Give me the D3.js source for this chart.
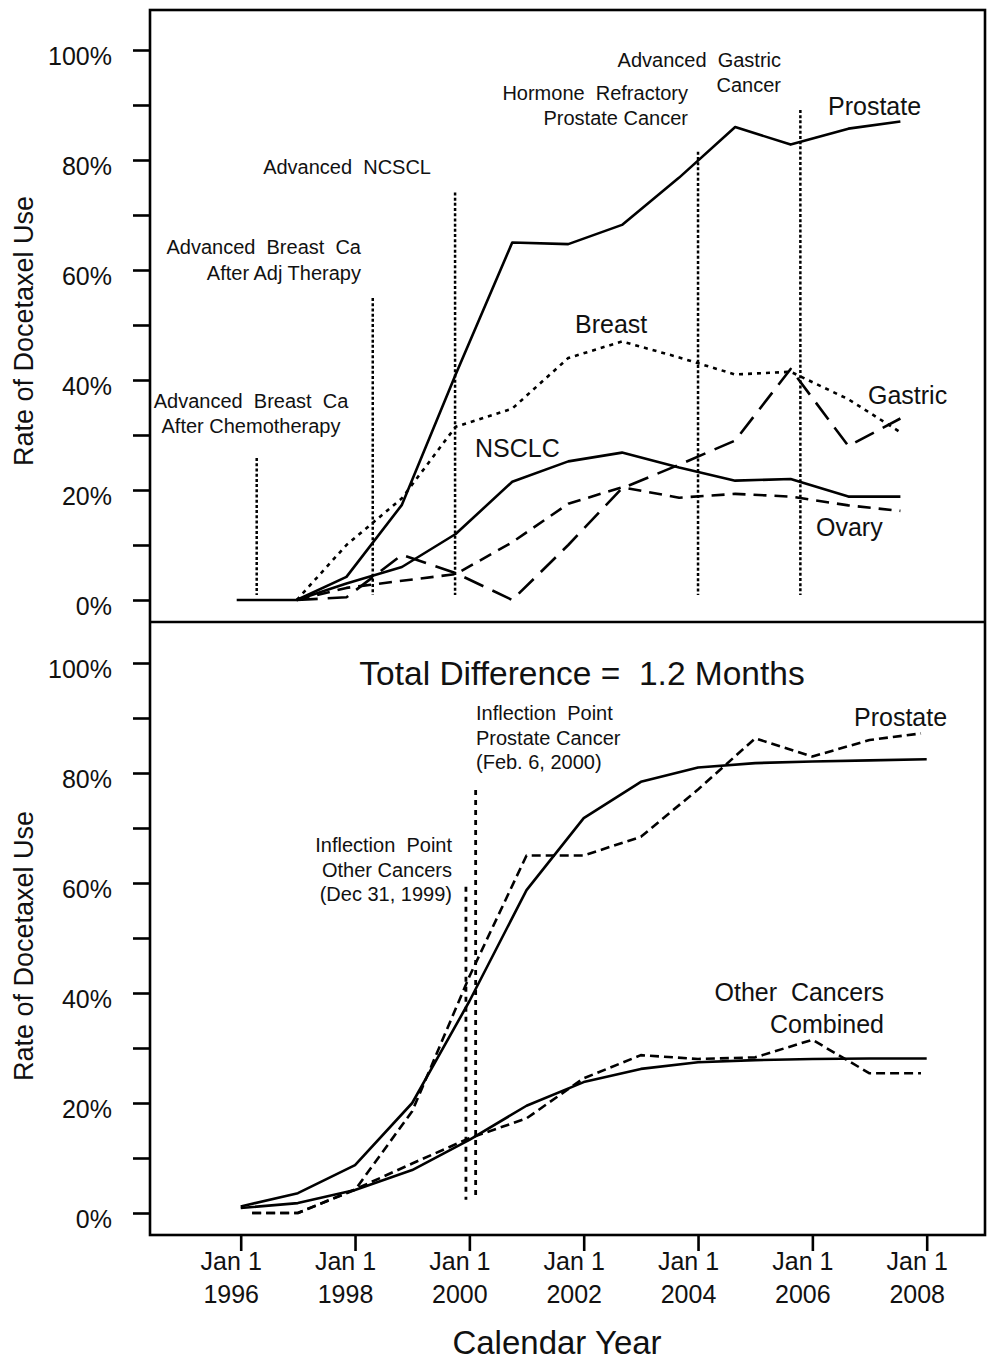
<!DOCTYPE html>
<html>
<head>
<meta charset="utf-8">
<script src="https://cdn.jsdelivr.net/npm/d3@7"></script>
<style>
  html, body { margin: 0; padding: 0; background: #fff; }
  svg { display: block; }
  text { font-family: "Liberation Sans", Arial, Helvetica, sans-serif; fill: #111; white-space: pre; }
</style>
</head>
<body>
<svg id="chart" width="992" height="1362"></svg>
<script>
// ---------------- DATA ----------------
// Top panel (observed annual rates by cancer type)
const topYears   = [1995.93, 1996.98, 1997.85, 1998.82, 1999.76, 2000.75, 2001.73, 2002.67, 2003.67, 2004.65, 2005.62, 2006.63, 2007.54];
const prostateTop = [0, 0, 4.2, 17.3, 41, 65, 64.7, 68.2, 76.8, 86, 82.8, 85.7, 87];
const breastTop   = [null, 0, 10, 18.5, 31.5, 34.8, 44, 47, 44.1, 41, 41.5, 36.5, 30.5];
const nsclcTop    = [null, 0, 3, 6, 12, 21.5, 25.2, 26.8, 24.1, 21.7, 22, 18.8, 18.8];
const ovaryTop    = [null, 0, 2.2, 3.5, 4.7, 10.5, 17.5, 20.5, 18.6, 19.3, 18.8, 17.2, 16.2];
const gastricTop  = [null, 0, 0.5, 8.2, 4.9, 0, 10, 20.3, 24.6, 29, 42, 28, 33];

// Approval markers (top panel)
const approvalYears = [1996.28, 1998.31, 1999.75, 2004.0, 2005.79];
const approvalTops  = [25.8, 54.9, 74.1, 81.5, 89.1];

// Bottom panel (fitted vs observed)
const fitYears    = [1996, 1997, 1998, 1999, 2000, 2001, 2002, 2003, 2004, 2005, 2006, 2007, 2008];
const prostateFit = [1.2, 3.6, 8.7, 20, 38.5, 58.7, 71.8, 78.4, 81, 81.8, 82.1, 82.3, 82.5];
const otherFit    = [0.9, 1.8, 4.2, 7.8, 13.3, 19.5, 23.8, 26.2, 27.4, 27.8, 28, 28.1, 28.1];
const obsYears    = [1996.2, 1997, 1998, 1999, 2000, 2001, 2002, 2003, 2004, 2005, 2006, 2007, 2007.9];
const prostateObs = [0, 0, 4.2, 18.5, 43, 65, 65, 68.4, 77, 86.3, 83, 86, 87.2];
const otherObs    = [0, 0, 4.3, 9, 13.6, 17.2, 24.5, 28.7, 28, 28.3, 31.5, 25.4, 25.4];

// Inflection points (bottom panel)
const inflectionYears = [1999.94, 2000.11];
const inflectionTops  = [59.3, 76.9];
const inflectionBottom = 2.4;

// Axis ticks
const yTicks = [0, 10, 20, 30, 40, 50, 60, 70, 80, 90, 100];
const xTicks = [1996, 1998, 2000, 2002, 2004, 2006, 2008];
const xTickLine1 = "Jan 1";

// ---------------- LAYOUT ----------------
const svg = d3.select("#chart");
const L = 150, R = 985, T = 10, MID = 622, B = 1235;
const x = d3.scaleLinear().domain([1996, 2008]).range([240.7, 926.7]);
const yTop = d3.scaleLinear().domain([0, 100]).range([600, 50]);
const yBot = d3.scaleLinear().domain([0, 100]).range([1213, 663]);
const SW = 2.6;

// ---------------- AXES ----------------
function yAxis(scale) {
  const g = svg.append("g").attr("transform", `translate(${L},0)`)
    .call(d3.axisLeft(scale).tickValues(yTicks).tickSize(17).tickPadding(21)
      .tickFormat(d => d % 20 === 0 ? d + "%" : ""));
  g.select(".domain").remove();
  g.selectAll(".tick line").attr("stroke", "#000").attr("stroke-width", SW);
  g.selectAll(".tick text").attr("font-size", 25).attr("dy", "0.56em")
    .attr("font-family", "'Liberation Sans', Arial, sans-serif").attr("fill", "#111");
}
yAxis(yTop);
yAxis(yBot);

const xg = svg.append("g").attr("transform", `translate(0,${B})`)
  .call(d3.axisBottom(x).tickValues(xTicks).tickSize(16).tickFormat(""));
xg.select(".domain").remove();
xg.selectAll(".tick line").attr("stroke", "#000").attr("stroke-width", SW);
xg.selectAll(".tick").each(function(d) {
  const t = d3.select(this).append("text").attr("text-anchor", "middle")
    .attr("font-size", 25).attr("fill", "#111")
    .attr("font-family", "'Liberation Sans', Arial, sans-serif");
  t.append("tspan").attr("x", -10).attr("y", 35).text(xTickLine1);
  t.append("tspan").attr("x", -10).attr("y", 68).text(d);
});

// ---------------- LINES ----------------
function drawLine(years, vals, yScale, dash, width) {
  const data = years.map((yr, i) => [yr, vals[i]]);
  const line = d3.line().defined(d => d[1] !== null)
    .x(d => x(d[0])).y(d => yScale(d[1]));
  svg.append("path").datum(data).attr("d", line)
    .attr("fill", "none").attr("stroke", "#000")
    .attr("stroke-width", width || SW)
    .attr("stroke-dasharray", dash || null)
    .attr("stroke-linejoin", "round");
}

// approval markers
approvalYears.forEach((yr, i) => {
  svg.append("line").attr("x1", x(yr)).attr("x2", x(yr))
    .attr("y1", yTop(approvalTops[i])).attr("y2", yTop(0.9))
    .attr("stroke", "#000").attr("stroke-width", 2.5).attr("stroke-dasharray", "3,2.2");
});

drawLine(topYears, prostateTop, yTop);
drawLine(topYears, nsclcTop, yTop);
drawLine(topYears, breastTop, yTop, "4,5");
drawLine(topYears, ovaryTop, yTop, "13,8");
drawLine(topYears, gastricTop, yTop, "21,10");

// inflection markers
inflectionYears.forEach((yr, i) => {
  svg.append("line").attr("x1", x(yr)).attr("x2", x(yr))
    .attr("y1", yBot(inflectionTops[i])).attr("y2", yBot(inflectionBottom))
    .attr("stroke", "#000").attr("stroke-width", 2.8).attr("stroke-dasharray", "5,5");
});

drawLine(fitYears, prostateFit, yBot);
drawLine(fitYears, otherFit, yBot);
drawLine(obsYears, prostateObs, yBot, "9,5");
drawLine(obsYears, otherObs, yBot, "9,5");

// ---------------- FRAME ----------------
svg.append("rect").attr("x", L).attr("y", T).attr("width", R - L).attr("height", B - T)
  .attr("fill", "none").attr("stroke", "#000").attr("stroke-width", SW);
svg.append("line").attr("x1", L).attr("x2", R).attr("y1", MID).attr("y2", MID)
  .attr("stroke", "#000").attr("stroke-width", SW);

// ---------------- TEXT ----------------
function label(lines, xPos, y0, lh, size, anchor) {
  const t = svg.append("text").attr("font-size", size).attr("text-anchor", anchor || "start");
  lines.forEach((s, i) => t.append("tspan").attr("x", xPos).attr("y", y0 + i * lh).text(s));
}
const A = 20;
label(["Advanced  Breast  Ca", "After Chemotherapy"], 251, 408, 25, A, "middle");
label(["Advanced  Breast  Ca", "After Adj Therapy"], 361, 254, 26, A, "end");
label(["Advanced  NCSCL"], 431, 174, 25, A, "end");
label(["Hormone  Refractory", "Prostate Cancer"], 688, 100, 25, A, "end");
label(["Advanced  Gastric", "Cancer"], 781, 67, 25, A, "end");

label(["Prostate"], 828, 115, 0, 25);
label(["Breast"], 575, 333, 0, 25);
label(["NSCLC"], 475, 457, 0, 25);
label(["Gastric"], 868, 404, 0, 25);
label(["Ovary"], 816, 536, 0, 25);

label(["Total Difference =  1.2 Months"], 582, 685, 0, 33.5, "middle");
label(["Inflection  Point", "Prostate Cancer", "(Feb. 6, 2000)"], 476, 720, 24.5, A, "start");
label(["Inflection  Point", "Other Cancers", "(Dec 31, 1999)"], 452, 852, 24.5, A, "end");
label(["Prostate"], 854, 726, 0, 25);
label(["Other  Cancers", "Combined"], 884, 1001, 32, 25, "end");

label(["Calendar Year"], 557, 1354, 0, 33, "middle");

[331, 946].forEach(cy => {
  svg.append("text").attr("font-size", 27).attr("text-anchor", "middle")
    .attr("transform", `translate(33,${cy}) rotate(-90)`).text("Rate of Docetaxel Use");
});
</script>
</body>
</html>
